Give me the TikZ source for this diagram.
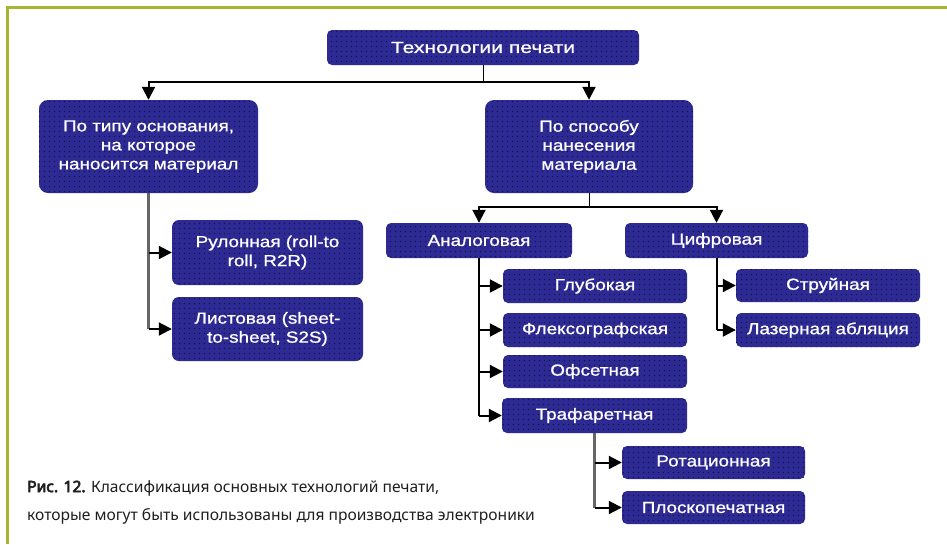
\documentclass[tikz,border=0pt]{standalone}
\usepackage{fontspec}
\setmainfont{Liberation Sans}
\newfontfamily\boxfont{Liberation Sans}[FakeStretch=1.18, FakeBold=1]
\newfontfamily\topfont{Liberation Sans}[FakeStretch=1.32, FakeBold=1]
\newfontfamily\capfont{Noto Sans}
\newfontfamily\capbold{Noto Sans}[FakeBold=4]
\usetikzlibrary{arrows.meta,patterns.meta}
\definecolor{nodeblue}{RGB}{46,42,148}
\definecolor{dotcol}{RGB}{18,18,70}
\definecolor{framegreen}{RGB}{166,182,52}
\tikzdeclarepattern{
  name=bluedots,
  type=uncolored,
  bounding box={(0pt,0pt) and (5.4pt,5.4pt)},
  tile size={(5.4pt,5.4pt)},
  code={\fill (2.7pt,2.7pt) circle (0.75pt);}
}
\begin{document}
\begin{tikzpicture}[x=1pt,y=-1pt,
  blockbox/.style={rounded corners=5pt, fill=nodeblue,
    postaction={pattern=bluedots, pattern color=dotcol},
    text=white, align=center, inner sep=0pt,
    font=\boxfont\fontsize{16}{19}\selectfont},
  bigbox/.style={blockbox, rounded corners=9pt},
  arr/.style={line width=2pt, -{Triangle[length=13pt,width=13pt]}},
  busline/.style={line width=2pt},
  stub/.style={line width=1pt},
  greybus/.style={line width=2.6pt, black!60}
]
\useasboundingbox (0,0) rectangle (947,544);
\fill[white] (0,0) rectangle (947,544);
% frame
\draw[framegreen, line width=3pt] (7,544) -- (7,7) -- (947,7);

% nodes
\node[blockbox, minimum width=312pt, minimum height=35pt, font=\topfont\fontsize{16}{19}\selectfont] (top) at (483,47.5) {Технологии печати};
\node[bigbox, minimum width=219pt, minimum height=93pt] (lefthead) at (148.5,146.5) {По типу основания,\\на которое\\наносится материал};
\node[bigbox, minimum width=208pt, minimum height=93pt] (righthead) at (589,146.5) {По способу\\нанесения\\материала};
\node[bigbox, rounded corners=7pt, minimum width=191pt, minimum height=65pt] (roll) at (267.5,252.5) {Рулонная (roll-to\\roll, R2R)};
\node[bigbox, rounded corners=7pt, minimum width=191pt, minimum height=64pt] (sheet) at (267.5,329) {Листовая (sheet-\\to-sheet, S2S)};
\node[blockbox, minimum width=186pt, minimum height=35pt] (analog) at (479,240.5) {Аналоговая};
\node[blockbox, minimum width=183pt, minimum height=35pt] (digital) at (716.5,240.5) {Цифровая};
\node[blockbox, minimum width=184pt, minimum height=34pt] (glub) at (595,286) {Глубокая};
\node[blockbox, minimum width=184pt, minimum height=34pt] (flex) at (595,330) {Флексографская};
\node[blockbox, minimum width=184pt, minimum height=33pt] (ofset) at (595,371.5) {Офсетная};
\node[blockbox, minimum width=185pt, minimum height=35pt] (traf) at (594.5,415.5) {Трафаретная};
\node[blockbox, minimum width=184pt, minimum height=33pt] (jet) at (828,285.5) {Струйная};
\node[blockbox, minimum width=184pt, minimum height=34pt] (laser) at (828,330) {Лазерная абляция};
\node[blockbox, minimum width=183pt, minimum height=33pt] (rot) at (713.5,462.5) {Ротационная};
\node[blockbox, minimum width=183pt, minimum height=33pt] (flat) at (713.5,507.5) {Плоскопечатная};

% caption
\node[anchor=west, align=left, inner sep=0pt, text=black!88,
  font=\capfont\fontsize{15.6}{28}\selectfont] (cap) at (27,502)
  {{\capbold Рис. 12.} Классификация основных технологий печати,\\которые могут быть использованы для производства электроники};

% connectors
\coordinate (j1) at (top.south |- 0,82);
\draw[stub] (top.south) -- (j1);
\draw[arr] (j1) -| (lefthead.north);
\draw[arr] (j1) -| (righthead.north);

\draw[greybus] (lefthead.south) -- (lefthead.south |- sheet.west);
\draw[arr] (lefthead.south |- roll.west) -- (roll.west);
\draw[arr] (lefthead.south |- sheet.west) -- (sheet.west);

\coordinate (j2) at (righthead.south |- 0,207);
\draw[stub] (righthead.south) -- (j2);
\draw[arr] (j2) -| (analog.north);
\draw[arr] (j2) -| (digital.north);

\draw[busline] (analog.south) -- (analog.south |- traf.west);
\draw[arr] (analog.south |- glub.west) -- (glub.west);
\draw[arr] (analog.south |- flex.west) -- (flex.west);
\draw[arr] (analog.south |- ofset.west) -- (ofset.west);
\draw[arr] (analog.south |- traf.west) -- (traf.west);

\draw[busline] (digital.south) -- (digital.south |- laser.west);
\draw[arr] (digital.south |- jet.west) -- (jet.west);
\draw[arr] (digital.south |- laser.west) -- (laser.west);

\draw[greybus] (traf.south) -- (traf.south |- flat.west);
\draw[arr] (traf.south |- rot.west) -- (rot.west);
\draw[arr] (traf.south |- flat.west) -- (flat.west);
\end{tikzpicture}
\end{document}
